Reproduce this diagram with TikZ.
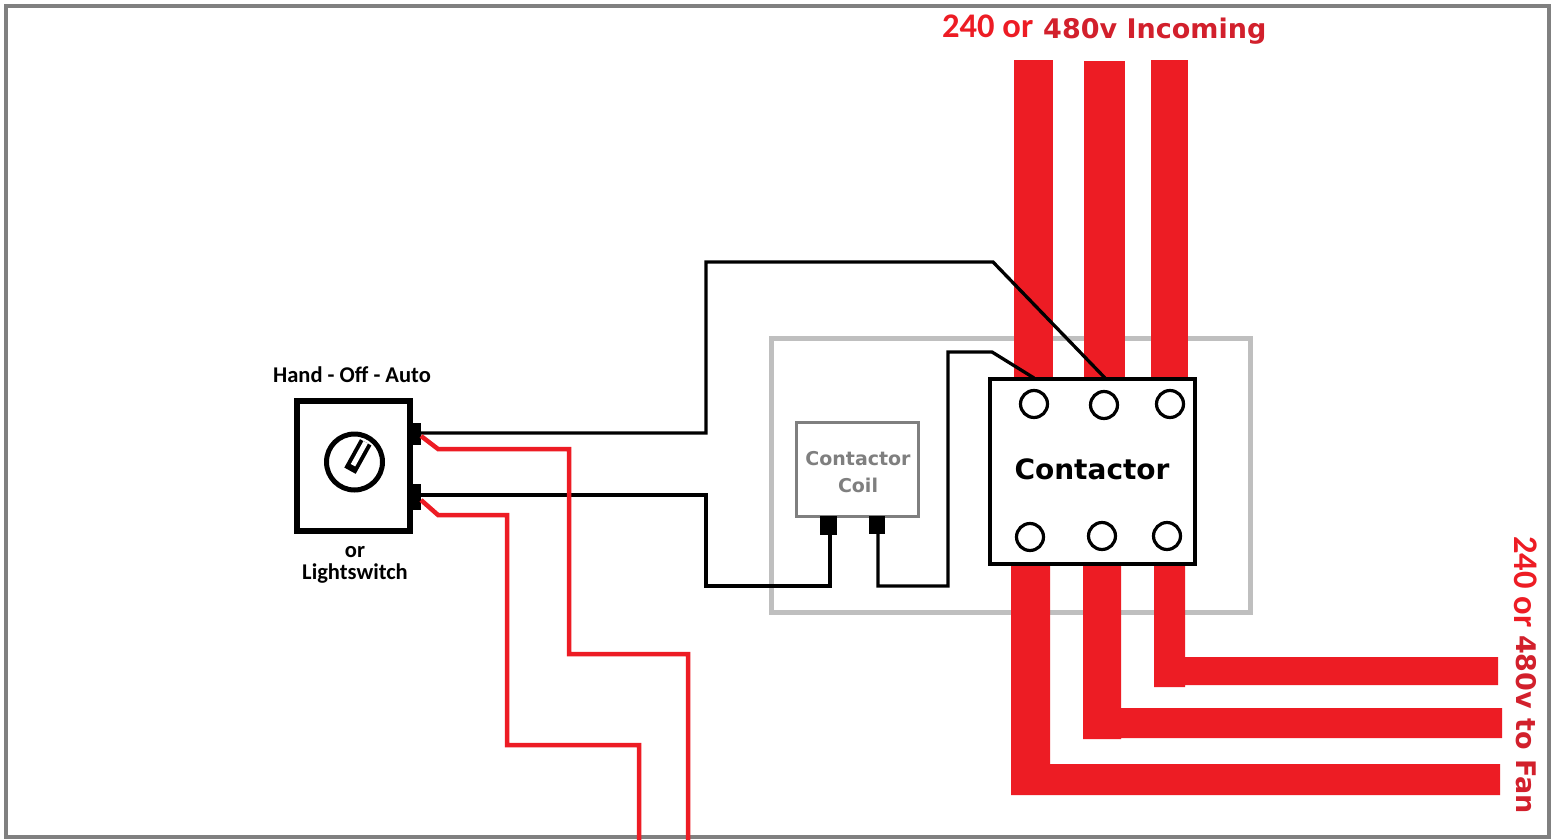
\documentclass[tikz,border=0pt]{standalone}
\usepackage{fontspec}
\setmainfont{Carlito}
\newfontfamily\widefont{DejaVu Sans}
\definecolor{barred}{HTML}{ED1C24}
\definecolor{darkred}{HTML}{D2202C}
\definecolor{framegray}{HTML}{808080}
\definecolor{boxgray}{HTML}{BFBFBF}
\definecolor{coilgray}{HTML}{7F7F7F}
\tikzset{
  bar/.style={fill=barred,draw=none},
  wire/.style={draw=black,line width=3.3pt,line join=miter},
  redwire/.style={draw=barred,line width=4.5pt,line join=miter},
  terminal/.style={fill=black,draw=none,inner sep=0pt,minimum width=#1,rectangle},
  screw/.style={circle,draw=black,line width=3.2pt,fill=white,minimum size=27pt,inner sep=0pt},
  lab/.style={inner sep=0pt,text=black,font=\bfseries\fontsize{22.5}{24}\selectfont},
}
\begin{document}
\begin{tikzpicture}[x=1pt,y=-1pt]
\useasboundingbox (0,0) rectangle (1557,840);
\fill[white] (0,0) rectangle (1557,840);
\draw[framegray,line width=4.5pt] (6,6) rectangle (1549,837);
% housing
\node[draw=boxgray,line width=5pt,minimum width=479pt,minimum height=274pt,inner sep=0pt] (housing) at (1010.5,475.5) {};
% incoming bars
\fill[bar] (1014,60) rectangle (1053,378);
\fill[bar] (1084,61) rectangle (1125,378);
\fill[bar] (1151,60) rectangle (1188,378);
% outgoing bars
\fill[bar] (1011,564) rectangle (1050,795) (1050,764) rectangle (1500,795);
\fill[bar] (1083,564) rectangle (1121,739) (1121,708) rectangle (1502,738);
\fill[bar] (1154,564) rectangle (1185,687) (1185,657) rectangle (1498,685);
% contactor
\node[draw=black,fill=white,line width=3.3pt,minimum width=205pt,minimum height=185pt,inner sep=0pt] (contactor) at (1092.5,471.5) {};
\node[inner sep=0pt,font=\widefont\bfseries\fontsize{28}{30}\selectfont] (contactorlabel) at (1092,469) {Contactor};
\node[screw] (t1) at (1034,404) {};
\node[screw] (t2) at (1104,405) {};
\node[screw] (t3) at (1170,404) {};
\node[screw] (b1) at (1030,537) {};
\node[screw] (b2) at (1102,536) {};
\node[screw] (b3) at (1167,536) {};
% coil
\node[draw=coilgray,fill=white,line width=3.3pt,minimum width=122pt,minimum height=94pt,inner sep=0pt] (coil) at (857.5,469.5) {};
\node[inner sep=0pt,text=coilgray,align=center,font=\widefont\bfseries\fontsize{19}{27}\selectfont] (coillabel) at (858,472.5) {Contactor\\Coil};
\node[terminal=17pt,minimum height=19pt] (c1) at (828.5,525.5) {};
\node[terminal=16pt,minimum height=18pt] (c2) at (877,525) {};
% switch
\node[draw=black,fill=white,line width=6pt,minimum width=113pt,minimum height=130pt,inner sep=0pt] (switch) at (353.5,465.5) {};
\node[circle,draw=black,line width=5pt,minimum size=56pt,inner sep=0pt] (knob) at (354.5,462) {};
\coordinate (ha) at (365.7,442.3);
\coordinate (hb) at (350,470.7);
\coordinate (hc) at (353,465.2);
\draw[black,line width=13pt] (ha) -- (hb);
\draw[white,line width=5pt] (ha) -- (hc);
\node[terminal=10pt,minimum height=22pt] (s1) at (416,434) {};
\node[terminal=10pt,minimum height=26pt] (s2) at (416,497) {};
\node[lab] (hoa) at (352,374.5) {Hand - Off - Auto};
\node[lab,align=center,font=\bfseries\fontsize{22.5}{21.5}\selectfont] (ls) at (355,565) {or\\Lightswitch};
% black wires
\coordinate (w1a) at (706,433);
\coordinate (w1b) at (706,262);
\coordinate (w1c) at (993,262);
\coordinate (w1d) at (1105,378);
\coordinate (w2a) at (706,495);
\coordinate (w2b) at (706,586);
\coordinate (w2c) at (830,586);
\coordinate (w3a) at (878,586);
\coordinate (w3b) at (948,586);
\coordinate (w3c) at (948,352);
\coordinate (w3d) at (992,352);
\coordinate (w3e) at (1034,378);
\draw[wire] (s1.east |- w1a) -- (w1a) -- (w1b) -- (w1c) -- (w1d);
\draw[wire] (s2.east |- w2a) -- (w2a) -- (w2b) -- (w2c) -- (w2c |- c1.south);
\draw[wire] (w3a |- c2.south) -- (w3a) -- (w3b) -- (w3c) -- (w3d) -- (w3e);
% red wires
\coordinate (r1s) at (421,436);
\coordinate (r1a) at (438,449);
\coordinate (r1b) at (569,449);
\coordinate (r1c) at (569,654);
\coordinate (r1d) at (688,654);
\coordinate (r1e) at (688,840);
\coordinate (r2s) at (421,500);
\coordinate (r2a) at (438,515);
\coordinate (r2b) at (507,515);
\coordinate (r2c) at (507,745);
\coordinate (r2d) at (639,745);
\coordinate (r2e) at (639,840);
\draw[redwire] (r1s) -- (r1a) -- (r1b) -- (r1c) -- (r1d) -- (r1e);
\draw[redwire] (r2s) -- (r2a) -- (r2b) -- (r2c) -- (r2d) -- (r2e);
% captions
\node[inner sep=0pt,text=barred,anchor=west,font=\bfseries\fontsize{34.5}{36}\selectfont] (in1) at (942,26) {240 or};
\node[inner sep=0pt,text=darkred,anchor=west,font=\widefont\bfseries\fontsize{27}{30}\selectfont] (in2) at (1043,31) {480v Incoming};
\node[inner sep=0pt,text=barred,rotate=-90,anchor=west,font=\bfseries\fontsize{34.5}{36}\selectfont] (out1) at (1526,536) {240 or};
\node[inner sep=0pt,text=darkred,rotate=-90,anchor=west,font=\widefont\bfseries\fontsize{27}{30}\selectfont] (out2) at (1526,635) {480v to Fan};
\end{tikzpicture}
\end{document}
